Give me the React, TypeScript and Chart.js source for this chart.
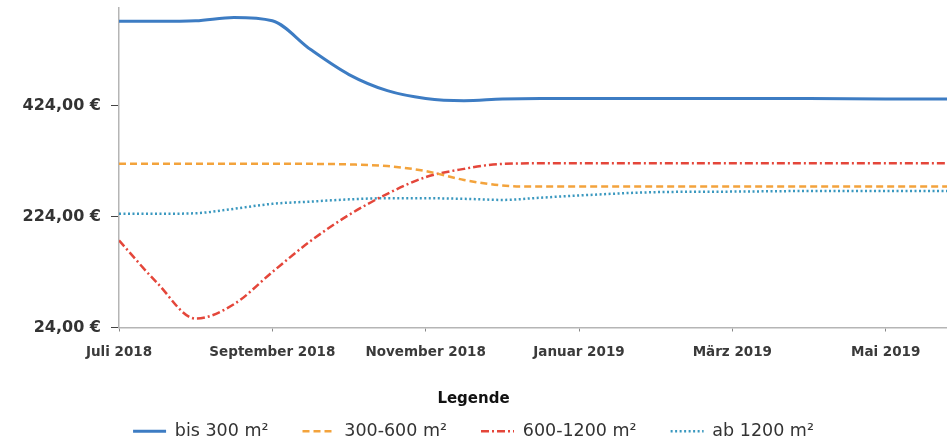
import React, { useEffect, useRef } from "react";
import { Chart, registerables } from "chart.js";
Chart.register(...registerables);

// months since Juli 2018
const months = [0, 0.5, 1, 1.5, 2, 2.5, 3, 3.5, 4, 4.5, 5, 5.5, 6, 7, 8, 9, 10, 10.8];
const bis300 = [576, 576, 577, 583, 577, 525, 480, 451, 437, 433, 436, 437, 437, 437, 437, 437, 436, 436];
const m300to600 = [319, 319, 319, 319, 319, 319, 318, 315, 306, 290, 280, 278, 278, 278, 278, 278, 278, 278];
const m600to1200 = [181, 104, 40, 66, 124, 180, 227, 265, 295, 310, 319, 320, 320, 320, 320, 320, 320, 320];
const ab1200 = [229, 229, 230, 238, 247, 251, 255, 257, 257, 256, 254, 258, 262, 268, 269, 270, 270, 270];

const seriesNames = ["bis 300 m²", "300-600 m²", "600-1200 m²", "ab 1200 m²"];
const xTickValues = [0, 2, 4, 6, 8, 10];
const xTickLabels = ["Juli 2018", "September 2018", "November 2018", "Januar 2019", "März 2019", "Mai 2019"];
const yTickValues = [24, 224, 424];
const legendTitle = "Legende";

const toPts = (vals: number[]) => months.map((m, i) => ({ x: m, y: vals[i] }));

export default function App() {
  const ref = useRef<HTMLCanvasElement | null>(null);
  useEffect(() => {
    if (!ref.current) return;
    const font = "'DejaVu Sans', sans-serif";
    const chart = new Chart(ref.current, {
      type: "line",
      data: {
        datasets: [
          { label: seriesNames[0], data: toPts(bis300), borderColor: "#3d7cc3", backgroundColor: "#3d7cc3", borderWidth: 3, borderDash: [] },
          { label: seriesNames[1], data: toPts(m300to600), borderColor: "#f3a33c", backgroundColor: "#f3a33c", borderWidth: 2.5, borderDash: [7, 4] },
          { label: seriesNames[2], data: toPts(m600to1200), borderColor: "#e4463a", backgroundColor: "#e4463a", borderWidth: 2.5, borderDash: [8, 3, 2, 3] },
          { label: seriesNames[3], data: toPts(ab1200), borderColor: "#3a98bf", backgroundColor: "#3a98bf", borderWidth: 2.5, borderDash: [2, 2.5] },
        ],
      },
      options: {
        animation: false,
        responsive: true,
        maintainAspectRatio: false,
        layout: { padding: { top: 8, left: 0, right: 0, bottom: -2 } },
        elements: { point: { radius: 0 }, line: { cubicInterpolationMode: "monotone" } },
        scales: {
          x: {
            type: "linear",
            min: 0,
            max: 10.8,
            afterBuildTicks: (s: any) => { s.ticks = xTickValues.map((v) => ({ value: v })); },
            afterFit: (s: any) => { s.height = 54; },
            border: { color: "#b5b5b5", width: 1.5 },
            grid: { drawOnChartArea: false, drawTicks: true, tickLength: 4, color: "#888" },
            ticks: {
              autoSkip: false,
              maxRotation: 0,
              padding: 13,
              color: "#3a3a3a",
              font: { family: font, size: 13.5, weight: "bold" },
              callback: (_v: any, i: number) => xTickLabels[i],
            },
          },
          y: {
            type: "linear",
            min: 24,
            max: 600,
            afterBuildTicks: (s: any) => { s.ticks = yTickValues.map((v) => ({ value: v })); },
            afterFit: (s: any) => { s.width = 119; s.paddingTop = 0; s.paddingBottom = 0; },
            border: { color: "#b5b5b5", width: 1.5 },
            grid: { drawOnChartArea: false, drawTicks: true, tickLength: 8, color: "#444" },
            ticks: {
              padding: 10,
              color: "#333",
              font: { family: font, size: 16, weight: "bold" },
              callback: (v: any) => Number(v).toFixed(2).replace(".", ",") + " €",
            },
          },
        },
        plugins: {
          tooltip: { enabled: false },
          legend: {
            position: "bottom",
            title: {
              display: true,
              text: legendTitle,
              color: "#111",
              font: { family: font, size: 15, weight: "bold" },
              padding: { top: 10, bottom: -21 },
            },
            labels: {
              usePointStyle: true,
              pointStyle: "line",
              pointStyleWidth: 33,
              padding: 34,
              color: "#333",
              font: { family: font, size: 17.5 },
              generateLabels: (c: any) => {
                const items = Chart.defaults.plugins.legend.labels.generateLabels(c);
                return items.map((it: any) => {
                  const ds: any = c.data.datasets[it.datasetIndex];
                  return {
                    ...it,
                    pointStyle: "line",
                    lineDash: ds.borderDash,
                    lineWidth: ds.borderWidth,
                    strokeStyle: ds.borderColor,
                    fillStyle: ds.borderColor,
                  };
                });
              },
            },
          },
        },
      } as any,
    });
    return () => chart.destroy();
  }, []);
  return (
    <div style={{ position: "absolute", left: 0, top: 0, width: 947, height: 448 }}>
      <canvas ref={ref} />
    </div>
  );
}
